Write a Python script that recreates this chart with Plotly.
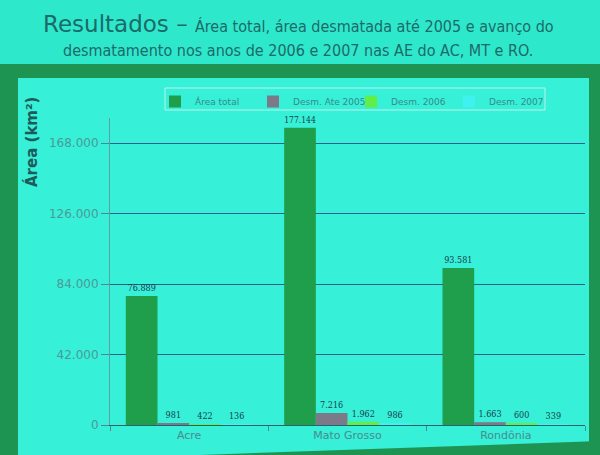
import plotly.graph_objects as go

categories = ["Acre", "Mato Grosso", "Rondônia"]
area_total = [76889, 177144, 93581]
desm_ate_2005 = [981, 7216, 1663]
desm_2006 = [422, 1962, 600]
desm_2007 = [136, 986, 339]
series_names = ["Área total", "Desm. Ate 2005", "Desm. 2006", "Desm. 2007"]
series_colors = ["#1f9e4c", "#7c7a88", "#62ee48", "#3ef2f0"]
y_ticks = [0, 42000, 84000, 126000, 168000]
y_tick_labels = ["0", "42.000", "84.000", "126.000", "168.000"]

W, H = 600, 455
L, R, T, B = 110, 585, 118, 425

def px(x):
    return (x - L) / (R - L)

def py(y):
    return (B - y) / (B - T)

fig = go.Figure()
for name, vals, col in zip(series_names, [area_total, desm_ate_2005, desm_2006, desm_2007], series_colors):
    fig.add_trace(go.Bar(
        x=categories, y=vals, name=name,
        marker=dict(color=col, line=dict(width=0)),
        text=vals, texttemplate="%{y:,}", textposition="outside",
        textfont=dict(size=9, color="#1c3c4c", family="DejaVu Serif Condensed"),
        cliponaxis=False,
    ))

panel = "#36f0d8"
band = "#1e9452"
shapes = [
    dict(type="rect", xref="paper", yref="paper", x0=px(0), x1=px(W), y0=py(0), y1=py(64),
         fillcolor="#2ee8cc", line=dict(width=0), layer="below"),
    dict(type="rect", xref="paper", yref="paper", x0=px(0), x1=px(W), y0=py(64), y1=py(78),
         fillcolor=band, line=dict(width=0), layer="below"),
    dict(type="rect", xref="paper", yref="paper", x0=px(0), x1=px(18), y0=py(78), y1=py(H),
         fillcolor=band, line=dict(width=0), layer="below"),
    dict(type="rect", xref="paper", yref="paper", x0=px(589), x1=px(W), y0=py(64), y1=py(H),
         fillcolor=band, line=dict(width=0), layer="below"),
    dict(type="path", xref="paper", yref="paper",
         path=f"M {px(200)} {py(H)} L {px(W)} {py(H)} L {px(W)} {py(441)} Z",
         fillcolor=band, line=dict(width=0), layer="below"),
    dict(type="rect", xref="paper", yref="paper", x0=px(165), x1=px(545), y0=py(88), y1=py(110),
         fillcolor="rgba(0,0,0,0)", line=dict(width=1, color="#b8f4ec")),
]

annotations = [
    dict(text="<span style='font-size:23px'>Resultados – </span>"
              "<span style='font-family:DejaVu Sans Condensed;font-size:16px'>Área total, área desmatada até 2005 e avanço do</span>",
         xref="paper", yref="paper", x=px(298), y=py(24), xanchor="center", yanchor="middle",
         showarrow=False, font=dict(family="DejaVu Sans", color="#1d6a68")),
    dict(text="desmatamento nos anos de 2006 e 2007 nas AE do AC, MT e RO.",
         xref="paper", yref="paper", x=px(298), y=py(51), xanchor="center", yanchor="middle",
         showarrow=False, font=dict(family="DejaVu Sans Condensed", size=16, color="#1d6a68")),
    dict(text="<b>Área (km²)</b>", textangle=-90,
         xref="paper", yref="paper", x=px(31), y=py(142), xanchor="center", yanchor="middle",
         showarrow=False, font=dict(family="DejaVu Sans", size=15, color="#1d5a58")),
]

fig.update_layout(
    width=W, height=H,
    margin=dict(l=L, r=W - R, t=T, b=H - B, pad=0),
    paper_bgcolor=panel, plot_bgcolor="rgba(0,0,0,0)",
    separators=",.",
    barmode="group", bargap=0.2, bargroupgap=0,
    showlegend=True,
    legend=dict(orientation="h", x=px(155), y=py(87), xanchor="left", yanchor="top",
                bgcolor="rgba(0,0,0,0)", borderwidth=0,
                entrywidth=53, entrywidthmode="pixels",
                font=dict(family="DejaVu Sans", size=9, color="#3a8a88"),
                itemsizing="constant", itemwidth=30, traceorder="normal"),
    shapes=shapes, annotations=annotations,
    font=dict(family="DejaVu Sans"),
)
fig.update_xaxes(showline=True, linecolor="#2a6070", linewidth=1,
                 ticks="outside", tickson="boundaries", ticklen=5, tickcolor="#4a8a90",
                 tickfont=dict(size=11, color="#4a8a90"), showgrid=False)
fig.update_yaxes(range=[0, 183000], tickvals=y_ticks, ticktext=y_tick_labels,
                 showline=True, linecolor="#5aa0a0", linewidth=1,
                 ticks="outside", ticklen=8, tickcolor="#4a8a90",
                 tickfont=dict(size=12, color="#4a9a98"),
                 showgrid=True, gridcolor="#2a5e8e", gridwidth=1, zeroline=False)

fig.write_html("out.html")
